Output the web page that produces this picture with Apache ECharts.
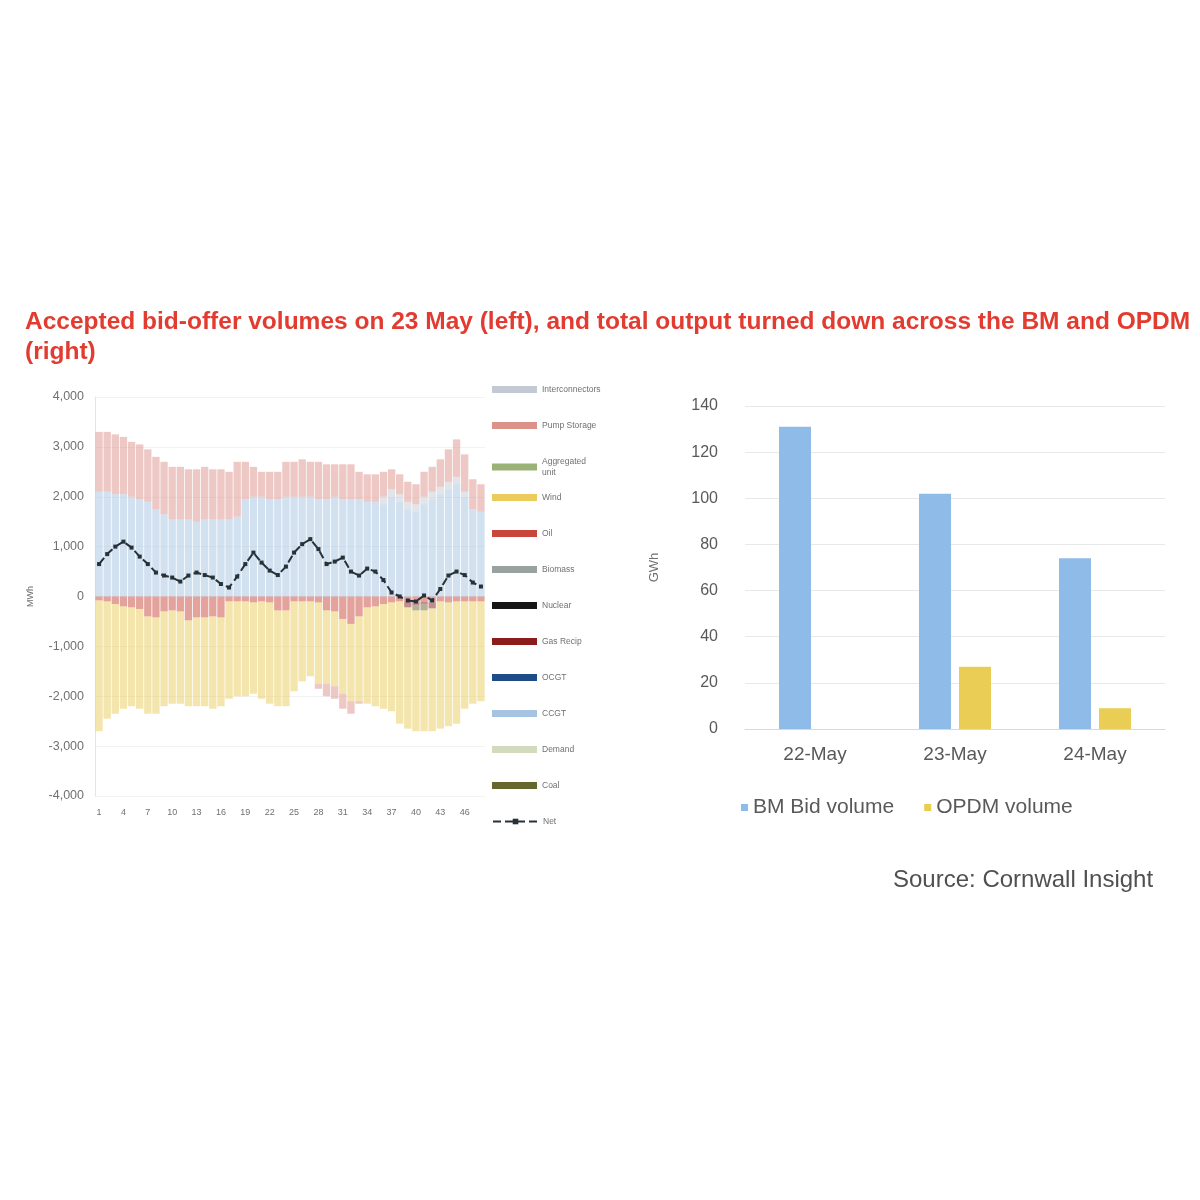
<!DOCTYPE html>
<html>
<head>
<meta charset="utf-8">
<script src="https://cdn.jsdelivr.net/npm/echarts@6/dist/echarts.min.js"></script>
<style>
html,body{margin:0;padding:0;background:#fff;}
#c{width:1200px;height:1200px;}
</style>
</head>
<body>
<div id="c"></div>
<script>
// ---------- Left chart data (settlement periods 1..48, MWh) ----------
const periods = Array.from({length:48},(_, i)=>String(i+1));
const ccgt = [2100,2100,2050,2050,2000,1950,1900,1750,1650,1550,1550,1550,1500,1550,1550,1550,1550,1600,
  1950,2000,2000,1950,1950,2000,2000,2000,2000,1950,1950,2000,1950,1950,1950,1900,1900,
  1850,2000,1900,1750,1700,1850,1950,2050,2150,2250,2000,1750,1700];
const interconnector = [0,0,0,0,0,0,0,0,0,0,0,0,0,0,0,0,0,0,0,0,0,0,0,0,0,0,0,0,0,0,0,0,0,0,0,
  150,150,150,150,150,150,150,150,150,150,100,0,0];
const pumpPos = [1200,1200,1200,1150,1100,1100,1050,1050,1050,1050,1050,1000,1050,1050,1000,1000,950,1100,
  750,600,500,550,550,700,700,750,700,750,700,650,700,700,550,550,550,
  500,400,400,400,400,500,500,550,650,750,750,600,550];
const oil = [-80,-100,-150,-200,-220,-250,-400,-420,-300,-280,-300,-480,-420,-420,-400,-420,-100,-100,-100,-120,-100,-120,-280,-280,
  -100,-100,-100,-120,-280,-300,-450,-550,-400,-220,-200,-150,-120,-100,-100,-100,-100,-120,-100,-120,-100,-100,-100,-100];
const gasRecip = [0,0,0,0,0,0,0,0,0,0,0,0,0,0,0,0,0,0,0,0,0,0,0,0,0,0,0,0,0,0,0,0,0,0,0,0,0,0,-120,-80,-60,-120,0,0,0,0,0,0];
const coal = [0,0,0,0,0,0,0,0,0,0,0,0,0,0,0,0,0,0,0,0,0,0,0,0,0,0,0,0,0,0,0,0,0,0,0,0,0,0,0,-100,-120,0,0,0,0,0,0,0];
const wind = [-2620,-2350,-2200,-2050,-1980,-2000,-1950,-1930,-1900,-1870,-1850,-1720,-1780,-1780,-1850,-1780,-1950,-1900,
  -1900,-1830,-1950,-2030,-1920,-1920,-1800,-1600,-1500,-1630,-1470,-1500,-1500,-1550,-1700,-1930,-2000,
  -2100,-2180,-2450,-2430,-2420,-2420,-2460,-2550,-2480,-2450,-2150,-2050,-2000];
const pumpNeg = [0,0,0,0,0,0,0,0,0,0,0,0,0,0,0,0,0,0,0,0,0,0,0,0,0,0,0,-100,-250,-250,-300,-250,-50,0,0,0,0,0,0,0,0,0,0,0,0,0,0,0];
const zeros = new Array(48).fill(0);
const net = [650,850,1000,1100,980,800,650,480,420,380,300,420,480,430,380,250,180,400,650,880,680,520,430,600,
  880,1050,1150,950,650,700,780,500,420,560,500,330,80,0,-80,-100,20,-80,150,420,500,430,280,200];

// ---------- Right chart data ----------
const days = ['22-May','23-May','24-May'];
const bmBid = [131,102,74];
const opdm = [null,27,9];

// ---------- Legend (left) ----------
const legendNames = ['Interconnectors','Pump Storage','Aggregated\nunit','Wind','Oil','Biomass','Nuclear','Gas Recip','OCGT','CCGT','Demand','Coal','Net'];
const colors = {
  'Interconnectors':'#C4CAD4','Pump Storage':'#DC9189','Aggregated\nunit':'#9BB276','Wind':'#EACB5C','Oil':'#C9463C',
  'Biomass':'#98A29E','Nuclear':'#161616','Gas Recip':'#8A1C1C','OCGT':'#1F4C86','CCGT':'#A6C3E2','Demand':'#D3DBBE','Coal':'#66662F','Net':'#263238'
};

function barSeries(name, data){
  return {name:name, type:'bar', stack:'s', xAxisIndex:0, yAxisIndex:0, data:data,
    barCategoryGap:'10%', itemStyle:{color:colors[name], opacity:0.5}, emphasis:{disabled:true}};
}

const series = [
  barSeries('CCGT', ccgt),
  barSeries('Interconnectors', interconnector),
  barSeries('Pump Storage', pumpPos),
  barSeries('Oil', oil),
  barSeries('Gas Recip', gasRecip),
  barSeries('Coal', coal),
  barSeries('Wind', wind),
  barSeries('Pump Storage', pumpNeg),
  barSeries('Aggregated\nunit', zeros),
  barSeries('Biomass', zeros),
  barSeries('Nuclear', zeros),
  barSeries('OCGT', zeros),
  barSeries('Demand', zeros),
  {name:'Net', type:'line', xAxisIndex:0, yAxisIndex:0, data:net, symbol:'rect', symbolSize:4,
    lineStyle:{color:colors['Net'], width:2, type:'dashed'}, itemStyle:{color:colors['Net']}, z:5},
  {name:'BM Bid volume', type:'bar', xAxisIndex:1, yAxisIndex:1, data:bmBid, barWidth:32, barGap:'25%',
    itemStyle:{color:'#8FBBE8'}},
  {name:'OPDM volume', type:'bar', xAxisIndex:1, yAxisIndex:1, data:opdm, barWidth:32, barGap:'25%',
    itemStyle:{color:'#EACD55'}}
];

const legends = legendNames.map((n,i)=>({
  data:[n], orient:'vertical', left:487, top:379 + i*36,
  itemWidth:45, itemHeight:7, icon: n==='Net' ? undefined : 'rect',
  itemStyle:{opacity:1}, selectedMode:false,
  textStyle:{fontSize:8.5, color:'#707070', fontFamily:'Liberation Sans, Arial, sans-serif', lineHeight:11}
}));
legends.push({
  data:['BM Bid volume','OPDM volume'], left:736, top:792, itemWidth:7, itemHeight:7, icon:'rect', itemGap:30,
  selectedMode:false, textStyle:{fontSize:21, color:'#595959', fontFamily:'Liberation Sans, Arial, sans-serif'}
});

const chart = echarts.init(document.getElementById('c'), null, {renderer:'canvas'});
chart.setOption({
  backgroundColor:'#ffffff',
  animation:false,
  title:[
    {text:'Accepted bid-offer volumes on 23 May (left), and total output turned down across the BM and OPDM\n(right)',
     left:20, top:302,
     textStyle:{color:'#E23B30', fontSize:24.5, fontWeight:'bold', lineHeight:30, fontFamily:'Liberation Sans, Arial, sans-serif'}},
    {text:'Source: Cornwall Insight', left:888, top:863,
     textStyle:{color:'#505050', fontSize:24, fontWeight:'normal', fontFamily:'Liberation Sans, Arial, sans-serif'}}
  ],
  legend: legends,
  grid:[
    {left:95, top:397, width:390, height:399},
    {left:745, top:406, width:420, height:323}
  ],
  xAxis:[
    {type:'category', gridIndex:0, data:periods,
     axisLine:{onZero:false, show:false}, axisTick:{show:false},
     axisLabel:{interval:2, fontSize:9, color:'#707070', margin:12, fontFamily:'Liberation Sans, Arial, sans-serif'}},
    {type:'category', gridIndex:1, data:days,
     axisLine:{lineStyle:{color:'#D9D9D9'}}, axisTick:{show:false},
     axisLabel:{fontSize:19, color:'#595959', margin:16, fontFamily:'Liberation Sans, Arial, sans-serif'}}
  ],
  yAxis:[
    {type:'value', gridIndex:0, min:-4000, max:4000, interval:1000,
     name:'MWh', nameLocation:'middle', nameGap:60, nameRotate:90,
     nameTextStyle:{fontSize:9, color:'#707070'},
     axisLine:{show:true, lineStyle:{color:'#E4E4E4'}}, axisTick:{show:false},
     splitLine:{lineStyle:{color:'#F2F2F2'}},
     axisLabel:{fontSize:12.5, color:'#707070', margin:11, fontFamily:'Liberation Sans, Arial, sans-serif'}},
    {type:'value', gridIndex:1, min:0, max:140, interval:20,
     name:'GWh', nameLocation:'middle', nameGap:84, nameRotate:90,
     nameTextStyle:{fontSize:13, color:'#707070'},
     axisLine:{show:false}, axisTick:{show:false},
     splitLine:{lineStyle:{color:'#E8E8E8'}},
     axisLabel:{fontSize:16, color:'#595959', margin:27, fontFamily:'Liberation Sans, Arial, sans-serif'}}
  ],
  series: series
});
</script>
</body>
</html>
